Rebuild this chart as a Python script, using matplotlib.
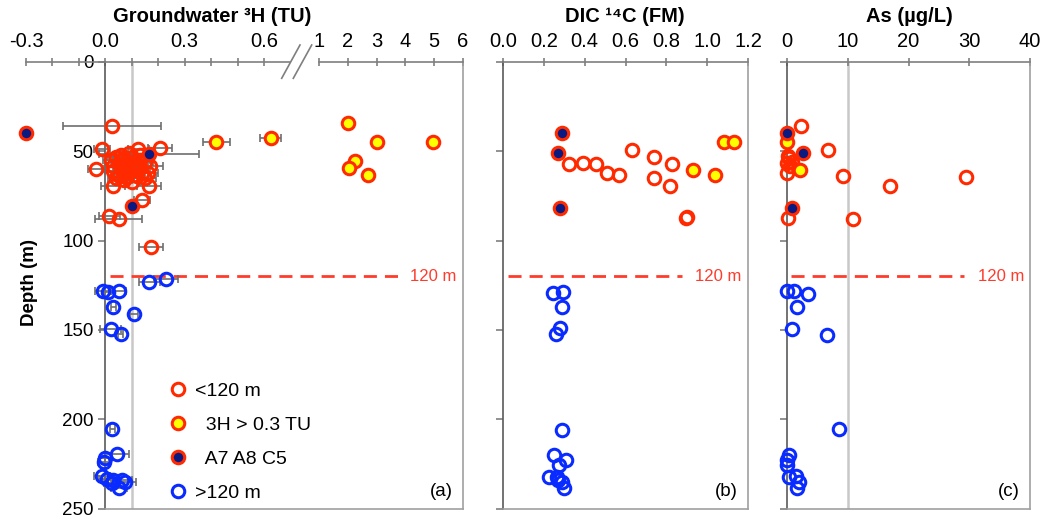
import numpy as np
import matplotlib
matplotlib.use("Agg")
import matplotlib.pyplot as plt
from matplotlib.lines import Line2D

plt.rcParams['font.family'] = ['Liberation Sans', 'DejaVu Sans']
plt.rcParams['font.size'] = 13.5

# ---- (a) groundwater tritium, TU ----
a_shallow = [0.025, -0.013, 0.125, 0.207, -0.035, 0.03, 0.166, 0.14, 0.015, 0.05, 0.174,
             0.04, 0.07, 0.10, 0.13, 0.05, 0.08, 0.11, 0.17, 0.06, 0.09, 0.12, 0.16,
             0.05, 0.08, 0.11, 0.15, 0.07, 0.10, 0.03,
             0.02, 0.06, 0.09, 0.12, 0.15, 0.03, 0.07, 0.10, 0.13, 0.04, 0.08, 0.12,
             0.14, 0.06, 0.09, 0.13]
a_shallow_err = [0.185, 0.03, 0.04, 0.045, 0.03, 0.045, 0.045, 0.03, 0.04, 0.09, 0.045,
                 0.03, 0.03, 0.03, 0.04, 0.03, 0.03, 0.03, 0.05, 0.03, 0.03, 0.03, 0.04,
                 0.03, 0.03, 0.03, 0.04, 0.03, 0.03, 0.03,
                 0.03, 0.03, 0.03, 0.03, 0.03, 0.03, 0.03, 0.03, 0.03, 0.03, 0.03, 0.03,
                 0.03, 0.03, 0.03, 0.03]
a_shallow_depth = [36, 48.5, 48.5, 48, 60, 69.5, 69.5, 77.5, 86, 87.8, 103.5,
                   53, 54, 53, 55, 57, 57, 58, 58, 60, 61, 60, 62,
                   63, 64.6, 63, 65, 66, 67, 58,
                   55, 55, 56, 57, 56, 61, 59, 59, 59, 65, 62, 64,
                   62, 52, 51, 52]
a_young = [0.42, 0.625, 2.01, 3.0, 4.95, 2.24, 2.05, 2.71]
a_young_err = [0.05, 0.04, 0, 0, 0, 0, 0, 0]
a_young_depth = [44.8, 42.3, 34.3, 44.8, 44.8, 55.4, 59.6, 63.5]
a_ref = [-0.30, 0.166, 0.10]
a_ref_err = [0, 0.19, 0]
a_ref_depth = [40, 51.3, 80.7]
a_deep = [0.23, 0.166, -0.01, 0.012, 0.05, 0.03, 0.11, 0.02, 0.058, 0.027, 0.043, 0.0,
          -0.006, -0.013, 0.005, 0.03, 0.062, 0.075, 0.053, 0.024]
a_deep_err = [0.045, 0.04, 0.03, 0.02, 0.03, 0.01, 0.015, 0.04, 0.01, 0.01, 0.045, 0.02,
              0.02, 0.03, 0.03, 0.03, 0.04, 0.04, 0.03, 0.03]
a_deep_depth = [121.5, 123.2, 128, 128.5, 128, 137, 141, 149.3, 152.4, 205.6, 219.3, 222,
                224, 232, 233.5, 234, 234.3, 235, 238.4, 236]

# ---- (b) DIC 14C, FM ----
b_shallow = [0.63, 0.74, 0.83, 0.325, 0.39, 0.456, 0.51, 0.57, 0.74, 0.82, 0.895, 0.90]
b_shallow_depth = [49, 53, 57, 57.3, 56.4, 57, 62, 63.5, 64.8, 69.5, 87.6, 87]
b_young = [1.08, 1.13, 0.93, 1.04]
b_young_depth = [44.8, 44.8, 60.5, 63.5]
b_ref = [0.29, 0.27, 0.28]
b_ref_depth = [40, 51, 81.6]
b_deep = [0.246, 0.295, 0.287, 0.28, 0.26, 0.287, 0.251, 0.31, 0.276, 0.227, 0.263,
          0.287, 0.299, 0.27]
b_deep_depth = [129.4, 128.5, 137.3, 149, 152.4, 205.8, 220.2, 223, 225.8, 232.4, 232.4,
                235.2, 238.4, 234]

# ---- (c) arsenic, ug/L ----
c_shallow = [2.3, 6.7, 0.2, 0, 0.9, 0, 9.2, 29.4, 16.9, 10.9, 0.2, 0.5, 0.3]
c_shallow_depth = [35.8, 49, 52.6, 56.4, 56, 62, 64, 64.4, 69.5, 87.8, 87.3, 58, 54]
c_young = [0, 2.1]
c_young_depth = [45, 60.5]
c_ref = [0, 2.7, 0.9]
c_ref_depth = [40, 51, 81.6]
c_deep = [0.05, 1.15, 3.5, 1.6, 0.9, 6.6, 8.6, 0.4, 0.05, 0.05, 0.4, 1.5, 1.9, 1.6]
c_deep_depth = [128, 128, 129.8, 137.3, 149.4, 152.8, 205.6, 220, 223, 225.8, 232.4, 232,
                235.2, 238.4]

RED = '#FF2A00'
BLUE = '#0A2BFF'
YELLOW = '#FFFF00'
NAVY = '#0B1A80'
GRID = '#C8C8C8'
AXC = '#7F7F7F'

MS, MEW = 9, 2.2

# broken tritium axis: linear up to 0.7, gap, then compressed 1..6
CUT_A, CUT_B = 0.7, 1.0
POS_B, STEP_B = 0.8093, 0.10848


def fwd(x):
    x = np.asarray(x, dtype=float)
    gap = CUT_A + (x - CUT_A) * (POS_B - CUT_A) / (CUT_B - CUT_A)
    hi = POS_B + (x - CUT_B) * STEP_B
    return np.where(x <= CUT_A, x, np.where(x < CUT_B, gap, hi))


def inv(u):
    u = np.asarray(u, dtype=float)
    gap = CUT_A + (u - CUT_A) * (CUT_B - CUT_A) / (POS_B - CUT_A)
    hi = CUT_B + (u - POS_B) / STEP_B
    return np.where(u <= CUT_A, u, np.where(u < POS_B, gap, hi))


def pts(ax, x, y, face, edge):
    ax.plot(x, y, ls='none', marker='o', ms=MS, mew=MEW, mfc=face, mec=edge,
            clip_on=False, zorder=4)


def errs(ax, x, y, e):
    ax.errorbar(x, y, xerr=e, fmt='none', ecolor='#6E6E6E', elinewidth=1.2,
                capsize=3, capthick=1.2, clip_on=False, zorder=3)


def frame(ax, xmin, xmax):
    ax.set_ylim(250, 0)
    ax.set_xlim(xmin, xmax)
    ax.xaxis.tick_top()
    for s in ['top', 'right', 'bottom', 'left']:
        ax.spines[s].set_linewidth(1.2)
    ax.spines['left'].set_color('#5A5A5A')
    ax.spines['right'].set_color('#A0A0A0')
    ax.spines['bottom'].set_color('#A0A0A0')
    ax.spines['top'].set_color(AXC)
    ax.tick_params(axis='x', direction='inout', length=6, width=1.2, color=AXC, pad=5,
                   labelsize=14.5)
    ax.tick_params(axis='y', direction='out', length=5, width=1.2, color=AXC)
    ax.set_yticks([0, 50, 100, 150, 200, 250])


def cutoff(ax, x0, x1, xt):
    ax.plot([x0, x1], [120, 120], color='#FF3B2B', lw=2, dashes=(4.7, 2.9), zorder=2)
    ax.text(xt, 120, '120 m', color='#FF3B2B', ha='left', va='center', fontsize=12)


fig = plt.figure(figsize=(10.45, 5.22), dpi=100)
ax_a = fig.add_axes([26 / 1045, 1 - 508.5 / 522, 436.7 / 1045, 446.5 / 522])
ax_b = fig.add_axes([503 / 1045, 1 - 508.5 / 522, 245 / 1045, 446.5 / 522])
ax_c = fig.add_axes([787 / 1045, 1 - 508.5 / 522, 243 / 1045, 446.5 / 522])

# (a)
ax = ax_a
ax.set_xscale('function', functions=(fwd, inv))
frame(ax, -0.3, 6)
ax.spines['left'].set_position(('data', 0))
ax.spines['top'].set_visible(False)
ax.spines['bottom'].set_bounds(0, 6)
ax.plot([-0.3, 0.7], [0, 0], color=AXC, lw=1.2, clip_on=False, zorder=5)
ax.plot([1, 6], [0, 0], color=AXC, lw=1.2, clip_on=False, zorder=5)
for x0, x1 in [(0.5855, 0.6274), (0.6121, 0.6542)]:
    ax.plot([x0, x1], [0.9635, 1.0381], color=AXC, lw=1.2, transform=ax.transAxes,
            clip_on=False)
ax.set_xticks([-0.3, 0.0, 0.3, 0.6, 1, 2, 3, 4, 5, 6])
ax.set_xticklabels(['-0.3', '0.0', '0.3', '0.6', '1', '2', '3', '4', '5', '6'])
ax.set_xticks([-0.2, -0.1, 0.1, 0.2, 0.4, 0.5], minor=True)
ax.tick_params(axis='x', which='minor', direction='inout', length=6, width=1.2, color=AXC)
ax.set_yticklabels(['0', '50', '100', '150', '200', '250'])
ax.axvline(0.1, color=GRID, lw=1.8, zorder=1)
cutoff(ax, 0.018, 3.74, 4.16)
errs(ax, a_shallow, a_shallow_depth, a_shallow_err)
errs(ax, a_young, a_young_depth, a_young_err)
errs(ax, a_ref, a_ref_depth, a_ref_err)
errs(ax, a_deep, a_deep_depth, a_deep_err)
pts(ax, a_shallow, a_shallow_depth, 'none', RED)
pts(ax, a_young, a_young_depth, YELLOW, RED)
pts(ax, a_ref, a_ref_depth, NAVY, RED)
pts(ax, a_deep, a_deep_depth, 'none', BLUE)
handles = [
    Line2D([], [], ls='none', marker='o', ms=MS, mew=MEW, mfc='none', mec=RED),
    Line2D([], [], ls='none', marker='o', ms=MS, mew=MEW, mfc=YELLOW, mec=RED),
    Line2D([], [], ls='none', marker='o', ms=MS, mew=MEW, mfc=NAVY, mec=RED),
    Line2D([], [], ls='none', marker='o', ms=MS, mew=MEW, mfc='none', mec=BLUE),
]
ax.legend(handles, ['<120 m', '  3H > 0.3 TU', '  A7 A8 C5', '>120 m'],
          loc='center left', bbox_to_anchor=(0.331, 0.149), frameon=False,
          borderpad=0, borderaxespad=0, handlelength=0.8, handletextpad=0.45,
          labelspacing=0.85, fontsize=14)
ax.annotate('(a)', xy=(1, 0), xycoords='axes fraction', xytext=(-10, 8),
            textcoords='offset pixels', ha='right', va='bottom')

# (b)
ax = ax_b
frame(ax, 0, 1.2)
ax.set_xticks(np.arange(0, 1.21, 0.2))
ax.set_xticklabels(['0.0', '0.2', '0.4', '0.6', '0.8', '1.0', '1.2'])
ax.set_yticklabels([])
cutoff(ax, 0.025, 0.877, 0.94)
pts(ax, b_shallow, b_shallow_depth, 'none', RED)
pts(ax, b_young, b_young_depth, YELLOW, RED)
pts(ax, b_ref, b_ref_depth, NAVY, RED)
pts(ax, b_deep, b_deep_depth, 'none', BLUE)
ax.annotate('(b)', xy=(1, 0), xycoords='axes fraction', xytext=(-10, 8),
            textcoords='offset pixels', ha='right', va='bottom')

# (c)
ax = ax_c
frame(ax, 0, 40)
ax.set_xticks([0, 10, 20, 30, 40])
ax.set_yticklabels([])
ax.axvline(10, color=GRID, lw=1.8, zorder=1)
cutoff(ax, 0.66, 29.1, 31.4)
pts(ax, c_shallow, c_shallow_depth, 'none', RED)
pts(ax, c_young, c_young_depth, YELLOW, RED)
pts(ax, c_ref, c_ref_depth, NAVY, RED)
pts(ax, c_deep, c_deep_depth, 'none', BLUE)
ax.annotate('(c)', xy=(1, 0), xycoords='axes fraction', xytext=(-10, 8),
            textcoords='offset pixels', ha='right', va='bottom')

fig.text(212 / 1045, 1 - 16 / 522, 'Groundwater \u00b3H (TU)', ha='center', va='center',
         fontweight='bold', fontsize=14.5)
fig.text(625 / 1045, 1 - 16 / 522, 'DIC \u00b9\u2074C (FM)', ha='center', va='center',
         fontweight='bold', fontsize=14.5)
fig.text(909 / 1045, 1 - 16 / 522, 'As (\u00b5g/L)', ha='center', va='center',
         fontweight='bold', fontsize=14.5)
fig.text(30 / 1045, 1 - 282 / 522, 'Depth (m)', ha='center', va='center', rotation=90,
         fontweight='bold')

fig.savefig('out.png', dpi=100)
